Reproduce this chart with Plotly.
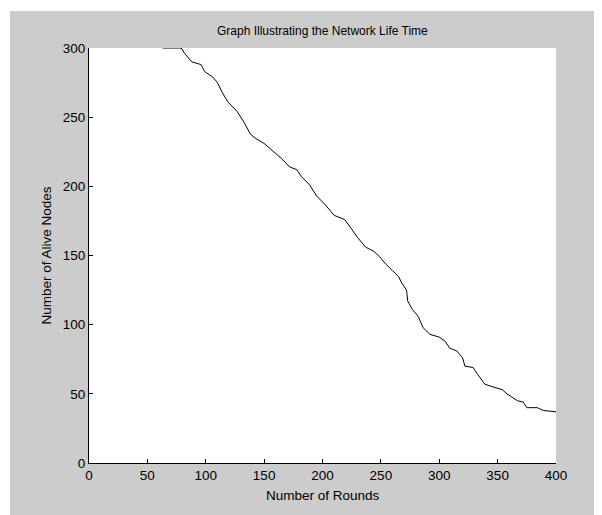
import plotly.graph_objects as go

rounds = [63, 79, 82, 88, 96, 99, 106, 110, 114, 119, 127, 133, 138, 142, 150,
          157, 165, 172, 178, 182, 189, 195, 202, 210, 219, 225, 230, 237, 244,
          249, 254, 260, 265, 268, 272, 273, 277, 282, 286, 292, 300, 305, 309,
          315, 320, 322, 329, 333, 339, 346, 354, 358, 363, 367, 372, 375, 384,
          389, 400]
alive = [300, 300, 296, 290, 288, 283, 279, 275, 268, 261, 254, 246, 238, 235, 231,
         226, 220, 214, 212, 207, 201, 193, 187, 179, 176, 169, 163, 156, 153,
         149, 144, 139, 135, 130, 125, 117, 111, 106, 98, 93, 91, 88, 83,
         81, 76, 70, 69, 64, 57, 55, 53, 50, 47, 45, 44, 40, 40,
         38, 37]

x_ticks = [0, 50, 100, 150, 200, 250, 300, 350, 400]
y_ticks = [0, 50, 100, 150, 200, 250, 300]

title_text = "Graph Illustrating the Network Life Time"
x_label = "Number of Rounds"
y_label = "Number of Alive Nodes"

# page has an 8px body margin; work in page pixels and shift
OFF = 8
W, H = 602 - OFF, 515 - OFF
L, R, T, B = 89 - OFF, 556 - OFF, 48 - OFF, 463 - OFF
pw, ph = R - L, B - T

def px(xp):
    return (xp - OFF - L) / pw

def py(yp):
    return (B - (yp - OFF)) / ph

FONT = "Liberation Sans, Arial, sans-serif"

fig = go.Figure()
fig.add_trace(go.Scatter(x=rounds, y=alive, mode="lines",
                         line=dict(color="black", width=1), showlegend=False,
                         hoverinfo="skip"))

fig.update_layout(
    width=W, height=H,
    margin=dict(l=L, r=W - R, t=T, b=H - B, pad=0),
    paper_bgcolor="#cccccc",
    plot_bgcolor="white",
    font=dict(family=FONT, size=13, color="black"),
    xaxis=dict(range=[0, 400], tickvals=x_ticks, ticks="inside", ticklen=4,
               tickcolor="black", showline=True, linecolor="black", linewidth=1,
               showgrid=False, zeroline=False, tickfont=dict(size=13.5)),
    yaxis=dict(range=[0, 300], tickvals=y_ticks, ticks="inside", ticklen=4,
               tickcolor="black", showline=True, linecolor="black", linewidth=1,
               showgrid=False, zeroline=False, tickfont=dict(size=13.5)),
    shapes=[
        dict(type="rect", xref="paper", yref="paper", x0=px(OFF), x1=px(10),
             y0=py(OFF + H), y1=py(OFF), fillcolor="white", line_width=0, layer="above"),
        dict(type="rect", xref="paper", yref="paper", x0=px(OFF), x1=px(OFF + W),
             y0=py(11), y1=py(OFF), fillcolor="white", line_width=0, layer="above"),
    ],
    annotations=[
        dict(text=title_text, xref="paper", yref="paper", x=0.5, y=py(31),
             xanchor="center", yanchor="middle", showarrow=False,
             font=dict(size=12)),
        dict(text=x_label, xref="paper", yref="paper", x=0.5, y=py(495),
             xanchor="center", yanchor="middle", showarrow=False,
             font=dict(size=13.5)),
        dict(text=y_label, xref="paper", yref="paper", x=px(46), y=0.5,
             xanchor="center", yanchor="middle", showarrow=False, textangle=-90,
             font=dict(size=13.5)),
    ],
)

fig.write_html("out.html")
